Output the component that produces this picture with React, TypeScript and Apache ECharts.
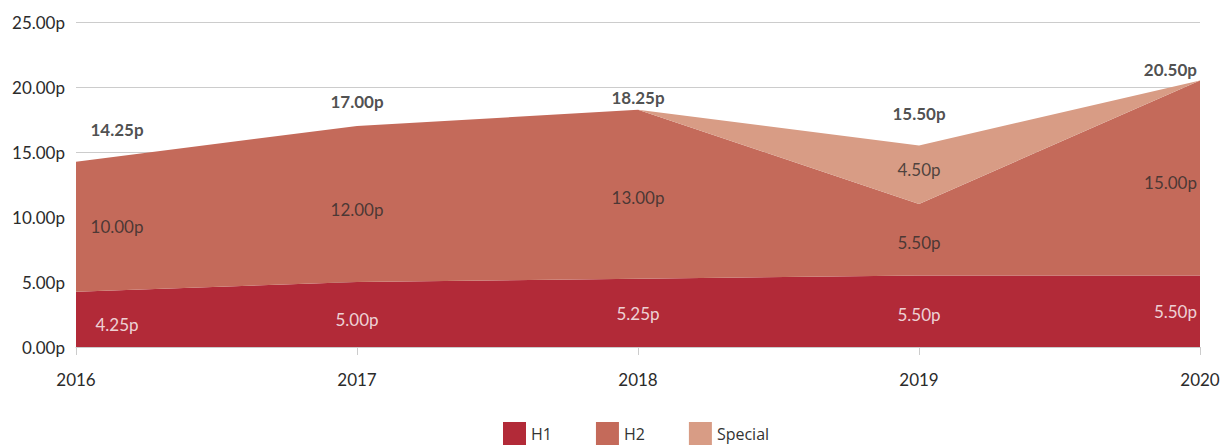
import React, { useEffect, useRef } from "react";
import * as echarts from "echarts";

const years = ["2016", "2017", "2018", "2019", "2020"];
const h1 = [4.25, 5.0, 5.25, 5.5, 5.5];
const h2 = [10.0, 12.0, 13.0, 5.5, 15.0];
const special = [0, 0, 0, 4.5, 0];
const totals = [14.25, 17.0, 18.25, 15.5, 20.5];
const yTicks = [0, 5, 10, 15, 20, 25];

const C_H1 = "#B22A38";
const C_H2 = "#C46A5A";
const C_SP = "#D89C85";
const FONT = "Lato";

// label style tweaks (pixels)
const h1Dy = [5, 5, 1, 3, 0];
const h2Dy = [0, 5, 3, 3, 4];
const spDy = [0, 0, 0, -5, 0];
const totDy = [-32, -25, -12, -32, -11];

function fmt(v: number) {
  return v.toFixed(2) + "p";
}

function labelItem(i: number, y: number, value: number, dy: number, color: string, bold: boolean) {
  const first = i === 0;
  const last = i === years.length - 1;
  return {
    value: [i, y],
    label: {
      show: true,
      position: "inside",
      align: last ? "right" : "center",
      verticalAlign: "middle",
      offset: [first ? 41 : last ? -3 : 0, dy],
      formatter: fmt(value),
      color,
      fontFamily: FONT,
      fontSize: 17,
      fontWeight: bold ? "bold" : "normal",
    },
  };
}

export default function App() {
  const ref = useRef<HTMLDivElement>(null);
  useEffect(() => {
    document.body.style.margin = "0";
    document.body.style.overflow = "hidden";
    if (!ref.current) return;
    const chart = echarts.init(ref.current, null, { renderer: "svg" });
    const areaSeries = (name: string, data: number[], color: string) => ({
      name,
      type: "line",
      stack: "total",
      data,
      symbol: "none",
      lineStyle: { width: 0 },
      itemStyle: { color },
      areaStyle: { color, opacity: 1 },
      silent: true,
    });
    const h1Labels = h1.map((v, i) => labelItem(i, v / 2, v, h1Dy[i], "#ffffff", false));
    const h2Labels = h2.map((v, i) => labelItem(i, h1[i] + v / 2, v, h2Dy[i], "#2b2b2b", false));
    const spLabels = special
      .map((v, i) => (v > 0 ? labelItem(i, h1[i] + h2[i] + v / 2, v, spDy[i], "#2b2b2b", false) : null))
      .filter((x) => x !== null);
    const totLabels = totals.map((v, i) => labelItem(i, v, v, totDy[i], "#222222", true));
    const labelSeries = (data: any[]) => ({
      type: "scatter",
      data,
      symbolSize: 0,
      silent: true,
      z: 10,
    });
    chart.setOption({
      animation: false,
      textStyle: { fontFamily: FONT },
      grid: { left: 76, right: 27, top: 22, bottom: 100, containLabel: false },
      legend: {
        data: ["H1", "H2", "Special"],
        left: 503,
        top: 422,
        padding: 0,
        icon: "rect",
        itemWidth: 23,
        itemHeight: 23,
        itemGap: 44,
        textStyle: { fontFamily: "Open Sans", fontSize: 16, color: "#333" },
        selectedMode: false,
      },
      xAxis: {
        type: "category",
        data: years,
        boundaryGap: false,
        axisLine: { lineStyle: { color: "#cccccc" } },
        axisTick: { show: true, length: 8, lineStyle: { color: "#cccccc" } },
        axisLabel: { color: "#2b2b2b", fontSize: 17, fontFamily: FONT, margin: 24 },
      },
      yAxis: {
        type: "value",
        min: yTicks[0],
        max: yTicks[yTicks.length - 1],
        interval: 5,
        axisLine: { show: false },
        axisTick: { show: false },
        splitLine: { lineStyle: { color: "#cccccc", width: 1 } },
        axisLabel: {
          color: "#2b2b2b",
          fontSize: 17,
          fontFamily: FONT,
          margin: 11,
          formatter: (v: number) => fmt(v),
        },
      },
      series: [
        areaSeries("H1", h1, C_H1),
        areaSeries("H2", h2, C_H2),
        areaSeries("Special", special, C_SP),
        labelSeries(h1Labels),
        labelSeries(h2Labels),
        labelSeries(spLabels),
        labelSeries(totLabels),
      ],
    });
    return () => chart.dispose();
  }, []);
  return <div ref={ref} style={{ width: 1227, height: 447 }} />;
}
